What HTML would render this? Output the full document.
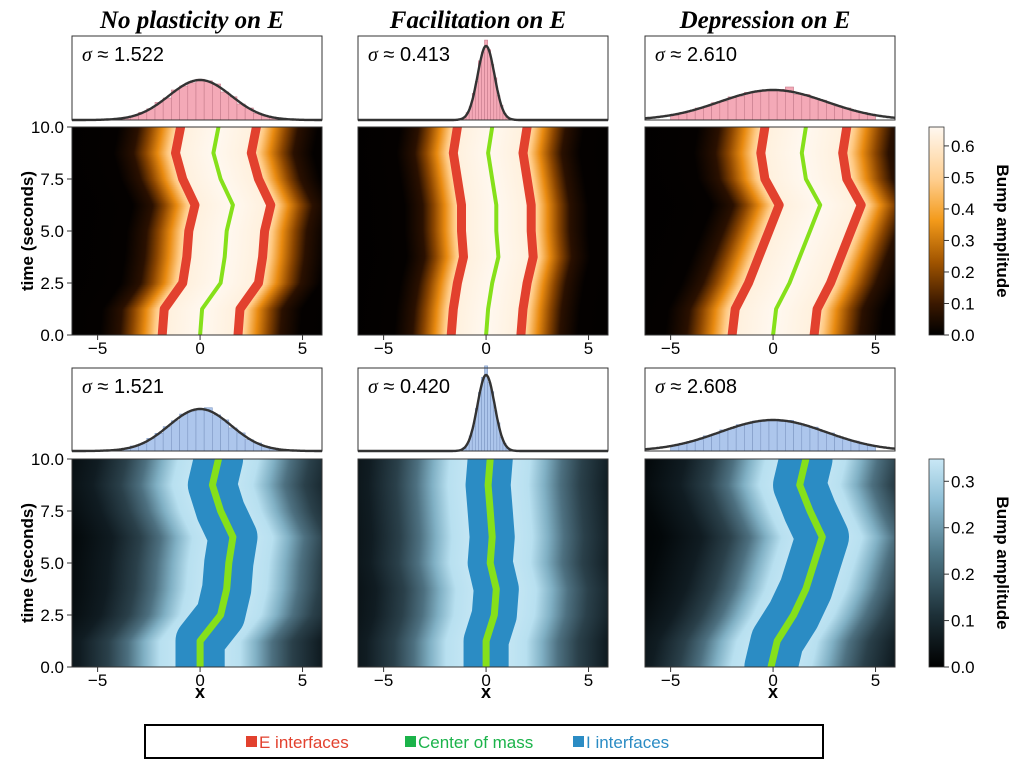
<!DOCTYPE html>
<html><head><meta charset="utf-8">
<style>
html,body{margin:0;padding:0;background:#fff;}
svg{display:block;font-family:"Liberation Sans",sans-serif;}
</style></head>
<body>
<svg id="fig" width="1024" height="768" viewBox="0 0 1024 768" xmlns="http://www.w3.org/2000/svg">
<defs id="defs">
  <linearGradient id="cbTop" x1="0" y1="1" x2="0" y2="0">
    <stop offset="0" stop-color="#000"/><stop offset="0.15" stop-color="#3a1800"/>
    <stop offset="0.35" stop-color="#a05400"/><stop offset="0.55" stop-color="#f39a1a"/>
    <stop offset="0.75" stop-color="#ffcf90"/><stop offset="1" stop-color="#fff8f0"/>
  </linearGradient>
  <linearGradient id="cbBot" x1="0" y1="1" x2="0" y2="0">
    <stop offset="0" stop-color="#000"/><stop offset="0.25" stop-color="#1d3038"/>
    <stop offset="0.55" stop-color="#4f7888"/><stop offset="0.8" stop-color="#8fbfd6"/>
    <stop offset="1" stop-color="#c9e8f6"/>
  </linearGradient>
  <linearGradient id="profTop" gradientUnits="userSpaceOnUse" x1="-200" y1="0" x2="200" y2="0">
    <stop offset="0" stop-color="#000"/><stop offset="0.25" stop-color="#040100"/>
    <stop offset="0.30" stop-color="#2a1000"/><stop offset="0.33" stop-color="#8a4500"/>
    <stop offset="0.36" stop-color="#e88a10"/><stop offset="0.385" stop-color="#ffc880"/>
    <stop offset="0.41" stop-color="#fff0dc"/><stop offset="0.5" stop-color="#fff8f0"/>
    <stop offset="0.59" stop-color="#fff0dc"/><stop offset="0.615" stop-color="#ffc880"/>
    <stop offset="0.64" stop-color="#e88a10"/><stop offset="0.67" stop-color="#8a4500"/>
    <stop offset="0.70" stop-color="#2a1000"/><stop offset="0.75" stop-color="#040100"/>
    <stop offset="1" stop-color="#000"/>
  </linearGradient>
  <linearGradient id="profBot" gradientUnits="userSpaceOnUse" x1="-200" y1="0" x2="200" y2="0">
    <stop offset="0" stop-color="#000"/><stop offset="0.1" stop-color="#03080a"/>
    <stop offset="0.2" stop-color="#101c22"/><stop offset="0.27" stop-color="#2a404a"/>
    <stop offset="0.32" stop-color="#4d7080"/><stop offset="0.36" stop-color="#80b0c4"/>
    <stop offset="0.40" stop-color="#b8e0f0"/><stop offset="0.5" stop-color="#d0ecf8"/>
    <stop offset="0.60" stop-color="#b8e0f0"/><stop offset="0.64" stop-color="#80b0c4"/>
    <stop offset="0.68" stop-color="#4d7080"/><stop offset="0.73" stop-color="#2a404a"/>
    <stop offset="0.8" stop-color="#101c22"/><stop offset="0.9" stop-color="#03080a"/>
    <stop offset="1" stop-color="#000"/>
  </linearGradient>
</defs>
</svg>
<script>
// ---- data ----
const times = [0, 1.25, 2.5, 3.75, 5, 6.25, 7.5, 8.75, 10];
const comTop1 = [0.0, 0.1, 1.0, 1.2, 1.3, 1.6, 1.0, 0.65, 0.9];
const comTop2 = [0.0, 0.1, 0.3, 0.6, 0.5, 0.5, 0.3, 0.1, 0.3];
const comTop3 = [0.0, 0.15, 0.8, 1.3, 1.8, 2.3, 1.6, 1.4, 1.6];
const comBot1 = [0.0, 0.0, 1.0, 1.3, 1.4, 1.6, 1.0, 0.6, 0.9];
const comBot2 = [0.0, 0.0, 0.4, 0.5, 0.2, 0.3, 0.2, 0.1, 0.2];
const comBot3 = [-0.1, 0.2, 1.0, 1.6, 2.0, 2.4, 1.8, 1.3, 1.6];
const halfWidthE = [1.85, 1.7, 2.0];
const halfWidthI = [1.2, 1.1, 1.3];
const sigmasTop = ["1.522", "0.413", "2.610"];
const sigmasBot = ["1.521", "0.420", "2.608"];
const peakTop = [40, 74, 30];
const peakBot = [42, 76, 31];
const binsWide = [-4.8,-4.4,-4.0,-3.6,-3.2,-2.8,-2.4,-2.0,-1.6,-1.2,-0.8,-0.4,0,0.4,0.8,1.2,1.6,2.0,2.4,2.8,3.2,3.6,4.0,4.4,4.8];
const histTop1 = [0.01,0.02,0.03,0.07,0.1,0.19,0.28,0.44,0.55,0.75,0.85,0.93,1.02,0.98,0.9,0.7,0.58,0.4,0.3,0.17,0.1,0.06,0.03,0.01,0.01];
const histBot1 = [0.01,0.01,0.04,0.06,0.12,0.17,0.3,0.42,0.58,0.72,0.88,0.95,1.0,1.03,0.86,0.74,0.55,0.43,0.27,0.19,0.11,0.05,0.03,0.02,0.01];
const histTop3 = [0.16,0.22,0.3,0.4,0.45,0.58,0.63,0.77,0.8,0.92,0.93,1.0,0.97,1.02,1.1,0.86,0.85,0.72,0.66,0.55,0.46,0.4,0.3,0.25,0.17];
const histBot3 = [0.18,0.25,0.31,0.37,0.49,0.55,0.68,0.72,0.85,0.88,0.97,0.98,1.02,0.95,0.99,0.9,0.8,0.77,0.62,0.58,0.45,0.38,0.32,0.22,0.18];
const binsNarrow = [-1.5,-1.35,-1.2,-1.05,-0.9,-0.75,-0.6,-0.45,-0.3,-0.15,0,0.15,0.3,0.45,0.6,0.75,0.9,1.05,1.2,1.35,1.5];
const histTop2 = [0.0,0.01,0.02,0.04,0.1,0.18,0.36,0.52,0.8,0.92,1.08,0.95,0.75,0.57,0.33,0.2,0.09,0.04,0.02,0.01,0.0];
const histBot2 = [0.0,0.01,0.02,0.05,0.09,0.2,0.33,0.56,0.77,0.97,1.12,0.9,0.78,0.53,0.37,0.18,0.1,0.04,0.01,0.01,0.0];
const yTicks = [0, 2.5, 5, 7.5, 10];
const yTickLabels = ["0.0","2.5","5.0","7.5","10.0"];
const xTicks = [-5, 0, 5];
const xTickLabels = ["\u22125","0","5"];
const cbTopTicks = [0,0.1,0.2,0.3,0.4,0.5,0.6];
const cbTopLabels = ["0.0","0.1","0.2","0.3","0.4","0.5","0.6"];
const cbBotTicks = [0,0.075,0.15,0.225,0.3];
const cbBotLabels = ["0.0","0.1","0.2","0.2","0.3"];

// ---- layout ----
const NS = "http://www.w3.org/2000/svg";
const svg = document.getElementById('fig');
const colX = [72, 358, 645];
const PW = 250;
const XMIN = -6.25, XMAX = 5.95;
function sx(col, v){ return colX[col] + (v - XMIN) / (XMAX - XMIN) * PW; }
function el(tag, attrs, parent){
  const e = document.createElementNS(NS, tag);
  for (const k in attrs) e.setAttribute(k, attrs[k]);
  (parent || svg).appendChild(e);
  return e;
}
function txt(x, y, s, attrs, parent){
  const t = el('text', Object.assign({x:x, y:y}, attrs), parent);
  t.textContent = s;
  return t;
}
function interp(arr, t){
  for (let i = 0; i < times.length - 1; i++){
    if (t <= times[i+1]){ const f = (t - times[i])/(times[i+1]-times[i]); return arr[i] + f*(arr[i+1]-arr[i]); }
  }
  return arr[arr.length-1];
}

const rows = [
  {top:127, bot:335, hTop:36, hBot:120, coms:[comTop1,comTop2,comTop3], hw:halfWidthE, sig:sigmasTop, peak:peakTop,
   hists:[[binsWide,histTop1],[binsNarrow,histTop2],[binsWide,histTop3]], prof:'profTop', fill:'#f4a9b7', edge:'#c77d8d', kind:'E'},
  {top:459, bot:667, hTop:368, hBot:451, coms:[comBot1,comBot2,comBot3], hw:halfWidthI, sig:sigmasBot, peak:peakBot,
   hists:[[binsWide,histBot1],[binsNarrow,histBot2],[binsWide,histBot3]], prof:'profBot', fill:'#adc6ec', edge:'#7f98c4', kind:'I'}
];

const titles = ["No plasticity on E", "Facilitation on E", "Depression on E"];
titles.forEach((s, c) => {
  const t = txt(colX[c] + 120, 28, s, {'text-anchor':'middle','font-family':'"Liberation Serif",serif','font-style':'italic','font-weight':'bold','font-size':'25'});
  
  
});

rows.forEach((R, ri) => {
  const H = R.bot - R.top;
  const sy = v => R.bot - v / 10 * H;
  for (let c = 0; c < 3; c++){
    // ---- histogram ----
    const hg = el('g', {});
    
    
    const bins = R.hists[c][0], vals = R.hists[c][1];
    const bw = (bins[1]-bins[0]);
    const sigma = parseFloat(R.sig[c]);
    const mean = 0;
    bins.forEach((b, i) => {
      const x0 = Math.max(sx(c, b - bw/2), colX[c]), x1 = Math.min(sx(c, b + bw/2), colX[c]+PW);
      if (x1 <= x0) return;
      const h = vals[i] * R.peak[c];
      const r = el('rect', {x:x0, y:R.hBot - h, width:x1-x0, height:h, fill:R.fill, stroke:R.edge, 'stroke-width':0.6}, hg);
      
      
    });
    let d = '';
    for (let v = XMIN; v <= XMAX + 1e-6; v += 0.05){
      const yv = R.hBot - R.peak[c] * Math.exp(-(v-mean)*(v-mean)/(2*sigma*sigma));
      d += (d ? 'L' : 'M') + sx(c, v).toFixed(1) + ',' + yv.toFixed(1);
    }
    const fit = el('path', {d:d, fill:'none', stroke:'#333', 'stroke-width':2.4}, hg);
    
    
    el('rect', {x:colX[c], y:R.hTop, width:PW, height:R.hBot-R.hTop, fill:'none', stroke:'#333', 'stroke-width':1}, hg);
    const st = txt(colX[c] + 10, R.hTop + 25, '', {'font-size':'20'}, hg);
    st.innerHTML = '<tspan font-family="Liberation Serif,serif" font-style="italic">σ</tspan> ≈ ' + R.sig[c];
    
    

    // ---- heatmap ----
    const g = el('g', {});
    
    
    const cid = 'clip' + ri + c;
    const cp = el('clipPath', {id:cid}, document.getElementById('defs'));
    el('rect', {x:colX[c], y:R.top, width:PW, height:H}, cp);
    const inner = el('g', {'clip-path':'url(#' + cid + ')'}, g);
    el('rect', {x:colX[c], y:R.top, width:PW, height:H, fill:'#000'}, inner);
    const N = 104;
    const ppu = PW / (XMAX - XMIN);
    for (let k = 0; k < N; k++){
      const t0 = k / N * 10, t1 = (k+1) / N * 10;
      const cx = sx(c, interp(R.coms[c], (t0+t1)/2));
      const sc = (R.kind === 'E' ? R.hw[c] / 1.85 : 1) * ppu / 20.5;
      el('rect', {x:-200, y:0, width:400, height:1, fill:'url(#' + R.prof + ')',
        transform:'translate(' + cx.toFixed(1) + ',' + sy(t1).toFixed(2) + ') scale(' + sc.toFixed(3) + ',' + (sy(t0)-sy(t1)+0.3).toFixed(2) + ')'}, inner);
    }
    const pts = (off) => {
      const arr = R.coms[c];
      const p = [sx(c, arr[0] + off).toFixed(1) + ',' + (R.bot + 20)];
      times.forEach((t, i) => p.push(sx(c, arr[i] + off).toFixed(1) + ',' + sy(t).toFixed(1)));
      p.push(sx(c, arr[arr.length-1] + off).toFixed(1) + ',' + (R.top - 20));
      return p.join(' ');
    };
    if (R.kind === 'E'){
      [-1, 1].forEach(s => {
        const l = el('polyline', {points:pts(s * R.hw[c]), fill:'none', stroke:'#e2412e', 'stroke-width':9, 'stroke-linejoin':'round'}, inner);
        
        
      });
    } else {
      const band = el('polyline', {points:pts(0), fill:'none', stroke:'#2b8cc4', 'stroke-width':(2*R.hw[c]*ppu).toFixed(1), 'stroke-linejoin':'round'}, inner);
      
      
    }
    const com = el('polyline', {points:pts(0), fill:'none', stroke:'#86e01a', 'stroke-width':R.kind==='E'?4:7, 'stroke-linejoin':'round'}, inner);
    
    
    el('rect', {x:colX[c], y:R.top, width:PW, height:H, fill:'none', stroke:'#333', 'stroke-width':1}, g);

    // x ticks
    xTicks.forEach((v, i) => {
      const x = sx(c, v);
      el('line', {x1:x, x2:x, y1:R.bot, y2:R.bot+5, stroke:'#333'}, g);
      const tl = txt(x, R.bot + 19, xTickLabels[i], {'text-anchor':'middle','font-size':'17'}, g);
      
      
    });
    if (c === 0){
      yTicks.forEach((v, i) => {
        const y = sy(v);
        el('line', {x1:colX[0]-5, x2:colX[0], y1:y, y2:y, stroke:'#333'}, g);
        const tl = txt(colX[0]-8, y + 6, yTickLabels[i], {'text-anchor':'end','font-size':'17'}, g);
        
        
      });
    }
    if (ri === 1){
      const xl = txt(colX[c] + 128, 698, 'x', {'text-anchor':'middle','font-size':'18','font-weight':'bold'});
      
      
    }
  }
  const yl = txt(0, 0, 'time (seconds)', {'text-anchor':'middle','font-size':'17','font-weight':'bold', transform:'translate(33,' + (R.top + H/2) + ') rotate(-90)'});
  
  

  // colorbar
  const cg = el('g', {});
  
  
  const cbMax = ri ? 0.336 : 0.66;
  el('rect', {x:929, y:R.top, width:15, height:H, fill: ri ? 'url(#cbBot)' : 'url(#cbTop)', stroke:'#333', 'stroke-width':0.8}, cg);
  const tks = ri ? cbBotTicks : cbTopTicks, lbs = ri ? cbBotLabels : cbTopLabels;
  tks.forEach((v, i) => {
    const y = R.bot - v / cbMax * H;
    el('line', {x1:944, x2:949, y1:y, y2:y, stroke:'#333'}, cg);
    const tl = txt(951, y + 6, lbs[i], {'font-size':'17'}, cg);
    
    
  });
  const ct = txt(0, 0, 'Bump amplitude', {'text-anchor':'middle','font-size':'17','font-weight':'bold', transform:'translate(997,' + (R.top + H/2) + ') rotate(90)'}, cg);
  
  
});

// legend
const lg = el('g', {});


el('rect', {x:145, y:725, width:678, height:33, fill:'#fff', stroke:'#000', 'stroke-width':2}, lg);
const legendItems = [['E interfaces','#e2412e',246],['Center of mass','#1bb34a',405],['I interfaces','#2b8cc4',573]];
legendItems.forEach(it => {
  const e = el('g', {}, lg);
  
  
  el('rect', {x:it[2], y:736, width:11, height:11, fill:it[1]}, e);
  txt(it[2] + 13, 748, it[0], {'font-size':'17', fill:it[1]}, e);
});
</script>
</body></html>
